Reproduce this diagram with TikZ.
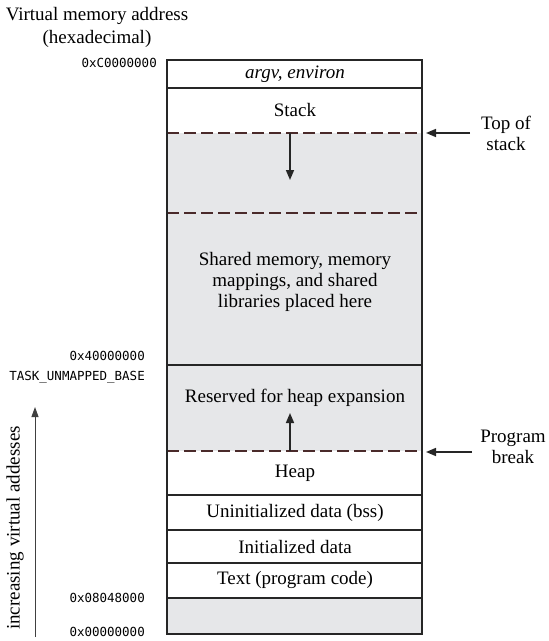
\documentclass[tikz,border=0pt]{standalone}
\usepackage{fontspec}
\setmainfont{Liberation Serif}
\setmonofont{DejaVu Sans Mono}
\usetikzlibrary{arrows.meta}
\definecolor{memgray}{HTML}{E6E7E9}
\definecolor{dashcol}{HTML}{4A2A2A}
\begin{document}
\begin{tikzpicture}[x=1pt,y=-1pt,
  lab/.style={font=\fontsize{19}{21}\selectfont, inner sep=0pt, align=center},
  addr/.style={font=\ttfamily\fontsize{12.5}{14}\selectfont, anchor=east, inner sep=0pt},
  boundary/.style={line width=1.6pt, color=black!85},
  brk/.style={dash pattern=on 12pt off 5pt, color=dashcol, line width=1.6pt},
  ptr/.style={-{Triangle[length=10pt,width=8pt]}, line width=1.6pt, color=black!85},
  thinptr/.style={-{Triangle[length=10pt,width=7pt]}, line width=1pt, color=black!75},
]
\useasboundingbox (0,0) rectangle (549,641);
% shaded regions
\fill[memgray] (167,133) rectangle (422,451);
\fill[memgray] (167,598) rectangle (422,634);
% dashed boundaries
\draw[brk] (167,133) -- (422,133);
\draw[brk] (167,213) -- (422,213);
\draw[brk] (167,451) -- (422,451);
% solid boundaries
\draw[boundary] (167,60) rectangle (422,634);
\foreach \y in {88,365,495,530,563,598} \draw[boundary] (167,\y) -- (422,\y);
% region labels
\node[lab] (argv) at (295,74) {\itshape argv, environ};
\node[lab] (stack) at (295,110) {Stack};
\node[lab] (shared) at (295,282) {Shared memory, memory\\mappings, and shared\\libraries placed here};
\node[lab] (reserved) at (295,398) {Reserved for heap expansion};
\node[lab] (heap) at (295,473) {Heap};
\node[lab] (bss) at (295,513) {Uninitialized data (bss)};
\node[lab] (init) at (295,547) {Initialized data};
\node[lab] (text) at (295,580) {Text (program code)};
% growth arrows
\coordinate (stackA) at (290,133);
\coordinate (stackB) at (290,180);
\draw[ptr] (stackA) -- (stackB);
\coordinate (heapA) at (290,451);
\coordinate (heapB) at (290,413);
\draw[ptr] (heapA) -- (heapB);
% right side labels
\node[lab] (tos) at (506,133) {Top of\\stack};
\coordinate (tosTip) at (426,133);
\coordinate (tosTail) at (470,133);
\draw[ptr] (tosTail) -- (tosTip);
\node[lab] (pbrk) at (513,447) {Program\\break};
\coordinate (pbTip) at (426,452);
\coordinate (pbTail) at (472,452);
\draw[ptr] (pbTail) -- (pbTip);
% title
\node[lab, font=\fontsize{19}{23}\selectfont] (title) at (97,27) {Virtual memory address\\(hexadecimal)};
% addresses
\node[addr] (a1) at (157,63) {0xC0000000};
\node[addr] (a2) at (145,356) {0x40000000};
\node[addr] (a3) at (145,377) {TASK\_UNMAPPED\_BASE};
\node[addr] (a4) at (145,598) {0x08048000};
\node[addr] (a5) at (145,632) {0x00000000};
% increasing addresses arrow
\coordinate (incA) at (35,637);
\coordinate (incB) at (35,407);
\draw[thinptr] (incA) -- (incB);
\node[lab, rotate=90] (inc) at (15,528) {increasing virtual addesses};
\end{tikzpicture}
\end{document}
